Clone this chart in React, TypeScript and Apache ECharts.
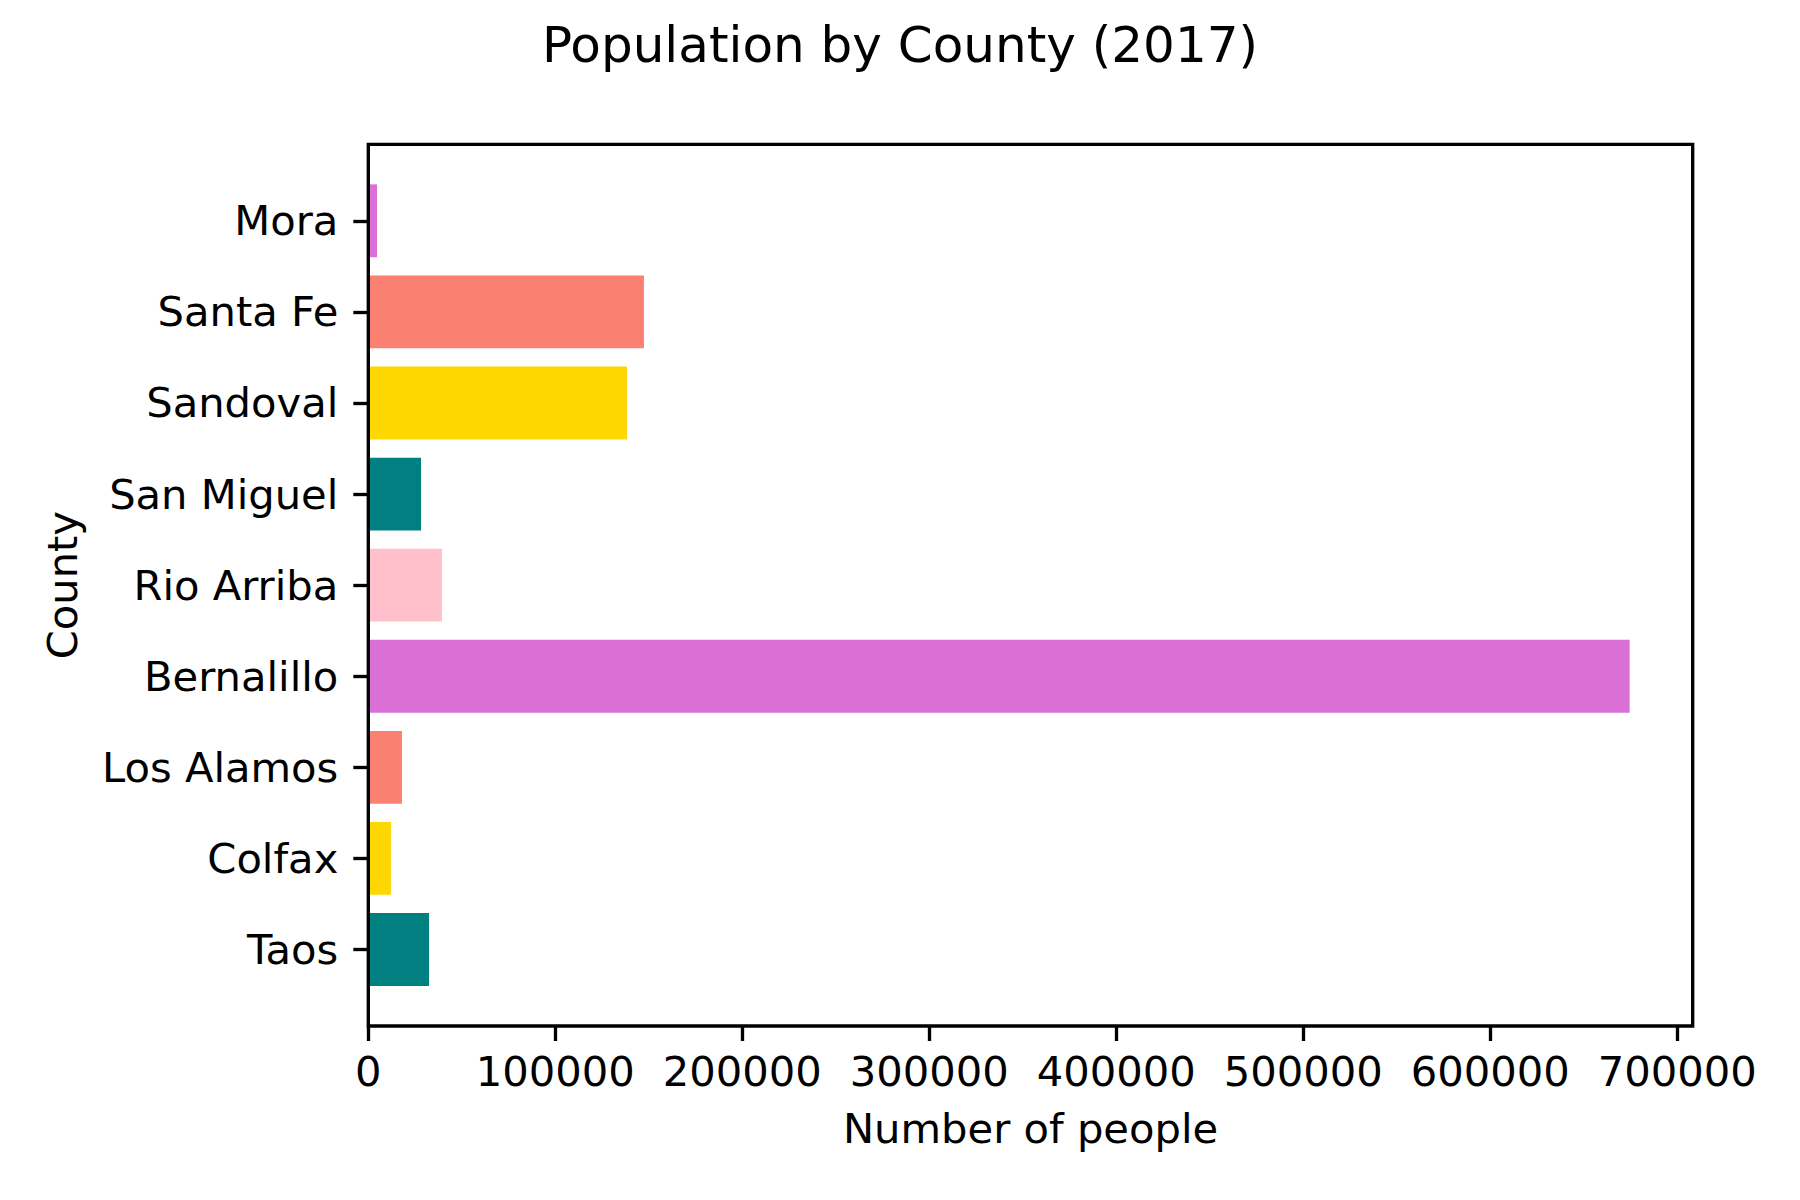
import React, { useEffect, useRef } from "react";
import * as echarts from "echarts";

const counties = ["Taos", "Colfax", "Los Alamos", "Bernalillo", "Rio Arriba", "San Miguel", "Sandoval", "Santa Fe", "Mora"];
const population = [32500, 12100, 18000, 674500, 39400, 28200, 138300, 147400, 4650];
const barColors = ["#008080", "#FFD700", "#FA8072", "#DA70D6", "#FFC0CB", "#008080", "#FFD700", "#FA8072", "#DA70D6"];
const xTicks = [0, 100000, 200000, 300000, 400000, 500000, 600000, 700000];
const titleText = "Population by County (2017)";
const xName = "Number of people";
const yName = "County";

const FONT = "DejaVu Sans";
const FS = 41.67;

export default function App() {
  const ref = useRef<HTMLDivElement>(null);
  useEffect(() => {
    document.body.style.margin = "0";
    const chart = echarts.init(ref.current!, null, { renderer: "svg" });
    const L = 368.3, R = 1692.7, T = 144.3, B = 1026;
    const band = (B - T) / 9.68;
    const gTop = T + 0.34 * band;
    const gH = 9 * band;
    const xMax = Math.max(...population) * 1.05;
    chart.setOption({
      animation: false,
      backgroundColor: "#ffffff",
      grid: { left: L, top: gTop, width: R - L, height: gH, containLabel: false },
      xAxis: {
        type: "value",
        min: 0,
        max: xMax,
        interval: 100000,
        offset: B - (gTop + gH),
        axisLine: { show: false },
        splitLine: { show: false },
        axisTick: { show: true, length: 15, lineStyle: { color: "#000", width: 3.33 }, customValues: xTicks },
        axisLabel: {
          color: "#000", fontFamily: FONT, fontSize: FS, margin: 24,
          customValues: xTicks,
          formatter: (v: number) => String(v),
        },
      },
      yAxis: {
        type: "category",
        data: counties,
        axisLine: { show: false },
        axisTick: { show: true, alignWithLabel: true, length: 15, lineStyle: { color: "#000", width: 3.33 } },
        axisLabel: { color: "#000", fontFamily: FONT, fontSize: FS, margin: 30 },
        splitLine: { show: false },
      },
      series: [
        {
          type: "bar",
          barWidth: "80%",
          data: population.map((v, i) => ({ value: v, itemStyle: { color: barColors[i] } })),
        },
      ],
      graphic: [
        {
          type: "rect",
          z: 100,
          shape: { x: L, y: T, width: R - L, height: B - T },
          style: { fill: "none", stroke: "#000", lineWidth: 3.33 },
        },
        {
          type: "text",
          x: 900, y: 45,
          style: { text: titleText, fill: "#000", font: `50px "${FONT}"`, textAlign: "center", textVerticalAlign: "middle" },
        },
        {
          type: "text",
          x: (L + R) / 2, y: 1128,
          style: { text: xName, fill: "#000", font: `${FS}px "${FONT}"`, textAlign: "center", textVerticalAlign: "middle" },
        },
        {
          type: "text",
          x: 62.5, y: (T + B) / 2,
          rotation: Math.PI / 2,
          style: { text: yName, fill: "#000", font: `${FS}px "${FONT}"`, textAlign: "center", textVerticalAlign: "middle" },
        },
      ],
    });
    return () => chart.dispose();
  }, []);
  return <div ref={ref} style={{ position: "absolute", left: 0, top: 0, width: 1800, height: 1200 }} />;
}
